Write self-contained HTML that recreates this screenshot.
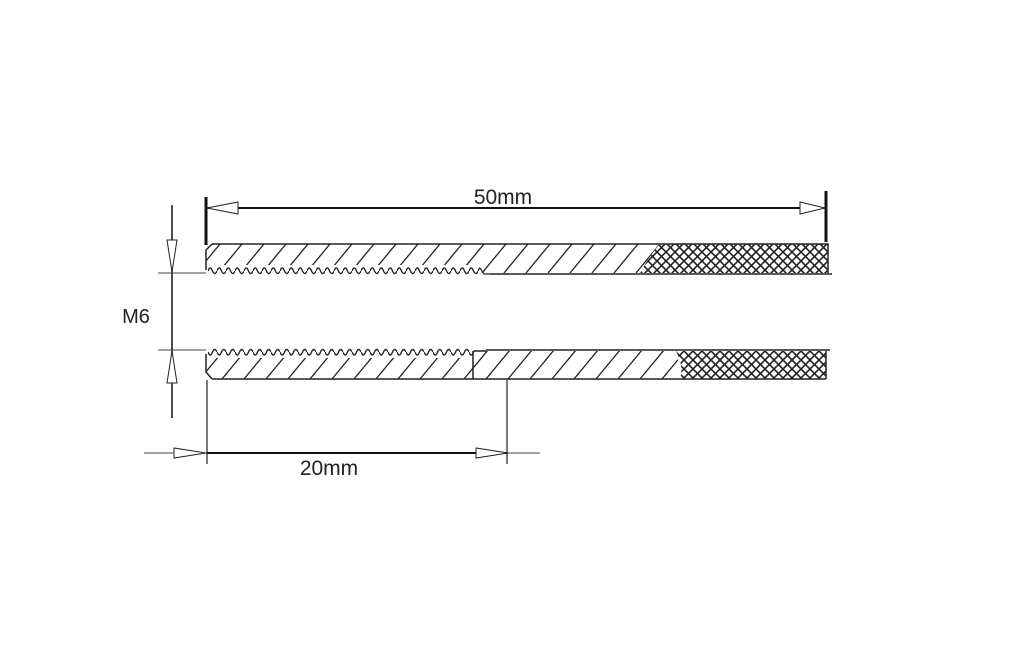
<!DOCTYPE html>
<html><head><meta charset="utf-8"><style>
html,body{margin:0;padding:0;background:#fff}
svg{display:block}
text{font-family:"Liberation Sans",sans-serif;fill:#222}
</style></head><body>
<svg width="1011" height="665" viewBox="0 0 1011 665" xmlns="http://www.w3.org/2000/svg">
<defs>
<pattern id="knurl" patternUnits="userSpaceOnUse" width="9" height="9">
<rect width="9" height="9" fill="#fff"/>
<path d="M-1 -1L10 10M10 -1L-1 10" stroke="#222" stroke-width="1.6"/>
</pattern>
<pattern id="wt" patternUnits="userSpaceOnUse" x="208" y="265" width="9" height="10">
<rect width="9" height="10" fill="#fff"/>
<path d="M0 6 Q2.25 0 4.5 6 Q6.75 11 9 6" fill="none" stroke="#222" stroke-width="1.4"/>
</pattern>
<pattern id="wb" patternUnits="userSpaceOnUse" x="208" y="348" width="9" height="10">
<rect width="9" height="10" fill="#fff"/>
<path d="M0 4 Q2.25 10 4.5 4 Q6.75 -1 9 4" fill="none" stroke="#222" stroke-width="1.4"/>
</pattern>
<clipPath id="ct"><path d="M212 244 L660 244 Q648 258 640 273 L210 273 L206 268 L206 250 Z"/></clipPath>
<clipPath id="cb"><path d="M206 351 L676 351 Q680 366 678 379 L212 379 L206 372 Z"/></clipPath>
</defs>

<!-- Top bar -->
<g clip-path="url(#ct)" stroke="#222" stroke-width="1.3">
<path d="M196 273 l24 -29 m-2 29 l24 -29 m-2 29 l24 -29 m-2 29 l24 -29 m-2 29 l24 -29 m-2 29 l24 -29 m-2 29 l24 -29 m-2 29 l24 -29 m-2 29 l24 -29 m-2 29 l24 -29 m-2 29 l24 -29 m-2 29 l24 -29 m-2 29 l24 -29 m-2 29 l24 -29 m-2 29 l24 -29 m-2 29 l24 -29 m-2 29 l24 -29 m-2 29 l24 -29 m-2 29 l24 -29 m-2 29 l24 -29 m-2 29 l24 -29"/>
</g>
<path d="M660 244 L828 244 L828 273 L640 273 Q648 258 660 244Z" fill="url(#knurl)"/>
<rect x="208" y="265" width="272" height="10" fill="url(#wt)"/>
<path d="M212 244 L828 244 L828 273 M490 274 L832 274 M206 250 L206 270 M206 250 L212 244" fill="none" stroke="#222" stroke-width="1.5"/>
<path d="M480 268 L484 274 L490 274" fill="none" stroke="#222" stroke-width="1.2"/>

<!-- Bottom bar -->
<g clip-path="url(#cb)" stroke="#222" stroke-width="1.3">
<path d="M200 379 l24 -29 m-2 29 l24 -29 m-2 29 l24 -29 m-2 29 l24 -29 m-2 29 l24 -29 m-2 29 l24 -29 m-2 29 l24 -29 m-2 29 l24 -29 m-2 29 l24 -29 m-2 29 l24 -29 m-2 29 l24 -29 m-2 29 l24 -29 m-2 29 l24 -29 m-2 29 l24 -29 m-2 29 l24 -29 m-2 29 l24 -29 m-2 29 l24 -29 m-2 29 l24 -29 m-2 29 l24 -29 m-2 29 l24 -29 m-2 29 l24 -29 m-2 29 l24 -29 m-2 29 l24 -29"/>
</g>
<path d="M676 351 L826 351 L826 379 L680 379 Q684 366 676 351Z" fill="url(#knurl)"/>
<rect x="208" y="348" width="266" height="10" fill="url(#wb)"/>
<path d="M486 350 L830 350 M826 351 L826 379 M212 379 L826 379 M206 354 L206 372 L212 379 M473 351 L473 379 M474 351 L486 351" fill="none" stroke="#222" stroke-width="1.5"/>

<!-- 50mm dimension -->
<line x1="206" y1="197" x2="206" y2="245" stroke="#111" stroke-width="3"/>
<line x1="826" y1="191" x2="826" y2="242" stroke="#111" stroke-width="3"/>
<line x1="206" y1="208" x2="826" y2="208" stroke="#111" stroke-width="2"/>
<path d="M207 208 L238 202 L238 214 Z" fill="#fff" stroke="#222" stroke-width="1"/>
<path d="M825 208 L800 202 L800 214 Z" fill="#fff" stroke="#222" stroke-width="1"/>
<text x="503" y="204" font-size="21" text-anchor="middle">50mm</text>

<!-- M6 dimension -->
<line x1="172" y1="205" x2="172" y2="418" stroke="#111" stroke-width="1.5"/>
<line x1="158" y1="273" x2="206" y2="273" stroke="#444" stroke-width="1"/>
<line x1="158" y1="350" x2="206" y2="350" stroke="#444" stroke-width="1"/>
<path d="M172 272 L167 240 L177 240 Z" fill="#fff" stroke="#222" stroke-width="1"/>
<path d="M172 351 L167 383 L177 383 Z" fill="#fff" stroke="#222" stroke-width="1"/>
<text x="136" y="323" font-size="20" text-anchor="middle">M6</text>

<!-- 20mm dimension -->
<line x1="207" y1="380" x2="207" y2="464" stroke="#222" stroke-width="1.2"/>
<line x1="507" y1="380" x2="507" y2="464" stroke="#222" stroke-width="1.2"/>
<line x1="144" y1="453" x2="540" y2="453" stroke="#444" stroke-width="1"/>
<line x1="207" y1="453" x2="507" y2="453" stroke="#111" stroke-width="2"/>
<path d="M206 453 L174 448 L174 458 Z" fill="#fff" stroke="#222" stroke-width="1"/>
<path d="M508 453 L476 448 L476 458 Z" fill="#fff" stroke="#222" stroke-width="1"/>
<text x="329" y="475" font-size="21" text-anchor="middle">20mm</text>
</svg>
</body></html>
